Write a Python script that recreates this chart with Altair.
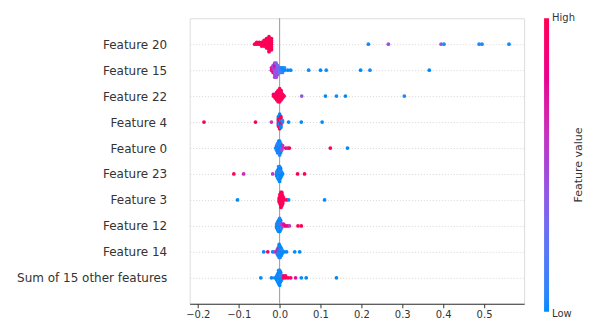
import altair as alt
import numpy as np
import pandas as pd

# Row labels, bottom (0) to top (9)
row_names = ["Sum of 15 other features", "Feature 14", "Feature 12", "Feature 3",
             "Feature 23", "Feature 0", "Feature 4", "Feature 22", "Feature 15", "Feature 20"]
x_ticks = [-0.2, -0.1, 0.0, 0.1, 0.2, 0.3, 0.4, 0.5]
legend_title = ["Feature value"]
legend_ends = ["High", "Low"]

# SHAP values and normalised feature values (0 = low, 1 = high) per row
f20_shap = [-0.061, -0.056, -0.056, -0.050, -0.050, -0.044, -0.044, -0.044,
            -0.038, -0.038, -0.038, -0.038,
            -0.032, -0.032, -0.032, -0.032, -0.032, -0.032,
            -0.026, -0.026, -0.026, -0.026, -0.026, -0.026, -0.026, -0.026, -0.026,
            -0.020, -0.020, -0.020, -0.020, -0.020, -0.020, -0.020,
            0.217, 0.266, 0.395, 0.402, 0.488, 0.495, 0.561]
f20_val = [1.0, 0.95, 1.0, 1.0, 0.95, 1.0, 1.0, 0.95,
           1.0, 0.95, 1.0, 1.0,
           1.0, 0.95, 1.0, 1.0, 0.95, 1.0,
           1.0, 1.0, 0.95, 1.0, 1.0, 0.95, 1.0, 1.0, 1.0,
           1.0, 0.95, 1.0, 1.0, 1.0, 0.95, 1.0,
           0.02, 0.45, 0.42, 0.05, 0.03, 0.04, 0.02]

f15_shap = [-0.020, -0.020,
            -0.016, -0.016, -0.016, -0.016,
            -0.012, -0.012, -0.012, -0.012, -0.012, -0.012, -0.012,
            -0.0085, -0.0085, -0.0085, -0.0085, -0.0085, -0.0085, -0.0085,
            -0.005, -0.005, -0.005, -0.005, -0.005,
            -0.001, -0.001, -0.001,
            0.0025, 0.0025, 0.0025,
            0.007, 0.007, 0.007,
            0.012, 0.012,
            0.020, 0.027, 0.071, 0.100, 0.114, 0.198, 0.221, 0.366]
f15_val = [0.85, 0.75,
           0.7, 0.5, 0.85, 0.45,
           0.45, 0.7, 0.4, 0.8, 0.5, 0.6, 0.4,
           0.4, 0.55, 0.35, 0.7, 0.45, 0.35, 0.5,
           0.4, 0.3, 0.5, 0.3, 0.45,
           0.25, 0.35, 0.2,
           0.1, 0.05, 0.15,
           0.05, 0.0, 0.1,
           0.0, 0.05,
           0.0, 0.0, 0.02, 0.0, 0.03, 0.0, 0.02, 0.0]

f22_shap = [-0.015, -0.015,
            -0.011, -0.011, -0.011,
            -0.0073, -0.0073, -0.0073, -0.0073, -0.0073,
            -0.0037, -0.0037, -0.0037, -0.0037, -0.0037, -0.0037, -0.0037,
            0.0, 0.0, 0.0, 0.0, 0.0, 0.0, 0.0, 0.0,
            0.0037, 0.0037, 0.0037, 0.0037, 0.0037, 0.0037,
            0.0073, 0.0073, 0.0073,
            0.011, 0.054, 0.112, 0.139, 0.161, 0.305]
f22_val = [1.0, 0.95,
           1.0, 0.9, 1.0,
           1.0, 0.95, 1.0, 0.85, 1.0,
           1.0, 0.9, 1.0, 1.0, 0.95, 1.0, 0.9,
           1.0, 1.0, 0.95, 1.0, 0.9, 1.0, 1.0, 0.95,
           1.0, 0.95, 1.0, 0.9, 1.0, 1.0,
           1.0, 0.95, 1.0,
           1.0, 0.42, 0.0, 0.02, 0.0, 0.03]

f4_shap = [-0.185, -0.059, -0.020,
           -0.003, -0.003, -0.003, -0.003, -0.003, -0.003, -0.003, -0.003,
           0.0, 0.0, 0.0, 0.0, 0.0, 0.0, 0.0, 0.0, 0.0, 0.0, 0.0, 0.0,
           0.003, 0.003, 0.003, 0.003, 0.003, 0.003, 0.003, 0.003, 0.003,
           0.007, 0.007, 0.022, 0.053, 0.104]
f4_val = [1.0, 1.0, 0.6,
          1.0, 0.0, 1.0, 0.9, 0.0, 1.0, 0.8, 0.0,
          0.0, 1.0, 0.0, 1.0, 0.1, 1.0, 0.0, 0.9, 1.0, 0.0, 1.0, 0.0,
          1.0, 0.0, 1.0, 0.0, 0.9, 1.0, 0.0, 1.0, 0.0,
          0.0, 0.05, 0.0, 0.0, 0.0]

f0_shap = [-0.0098,
           -0.0073, -0.0073, -0.0073,
           -0.0049, -0.0049, -0.0049, -0.0049, -0.0049,
           -0.0024, -0.0024, -0.0024, -0.0024, -0.0024, -0.0024,
           0.0, 0.0, 0.0, 0.0, 0.0, 0.0, 0.0,
           0.0024, 0.0024, 0.0024, 0.0024, 0.0024,
           0.0049, 0.0049, 0.0049,
           0.0073, 0.0073,
           0.015, 0.020, 0.024, 0.124, 0.166]
f0_val = [0.0,
          0.05, 0.0, 0.1,
          0.0, 0.05, 0.0, 0.1, 0.0,
          0.0, 0.0, 0.5, 0.05, 0.0, 0.1,
          0.0, 0.05, 0.0, 0.0, 0.1, 0.0, 0.05,
          0.0, 0.55, 0.0, 0.05, 0.0,
          0.1, 0.0, 0.45,
          0.5, 0.6,
          0.95, 0.7, 1.0, 1.0, 0.0]

f23_shap = [-0.112, -0.088, -0.017,
            -0.0073, -0.0073, -0.0073,
            -0.0049, -0.0049, -0.0049, -0.0049, -0.0049,
            -0.0024, -0.0024, -0.0024, -0.0024, -0.0024, -0.0024, -0.0024, -0.0024,
            0.0, 0.0, 0.0, 0.0, 0.0, 0.0, 0.0, 0.0, 0.0,
            0.0024, 0.0024, 0.0024, 0.0024, 0.0024, 0.0024,
            0.0049, 0.0049, 0.0049,
            0.0073, 0.044, 0.061]
f23_val = [1.0, 0.65, 0.55,
           0.0, 0.05, 0.0,
           0.0, 0.1, 0.0, 0.05, 0.0,
           0.0, 0.0, 0.05, 0.0, 0.1, 0.0, 0.0, 0.05,
           0.0, 0.05, 0.0, 0.0, 0.1, 0.0, 0.0, 0.05, 0.0,
           0.0, 0.05, 0.0, 0.1, 0.0, 0.0,
           0.0, 0.05, 0.0,
           0.0, 1.0, 1.0]

f3_shap = [-0.103,
           -0.0012, -0.0012, -0.0012,
           0.001, 0.001, 0.001, 0.001, 0.001, 0.001,
           0.0032, 0.0032, 0.0032, 0.0032, 0.0032, 0.0032, 0.0032, 0.0032, 0.0032,
           0.0054, 0.0054, 0.0054, 0.0054, 0.0054, 0.0054, 0.0054, 0.0054,
           0.0076, 0.0076, 0.0076, 0.0076, 0.0076,
           0.0098, 0.0098,
           0.017, 0.022, 0.110]
f3_val = [0.0,
          1.0, 0.95, 1.0,
          1.0, 1.0, 0.95, 1.0, 1.0, 0.9,
          1.0, 0.95, 1.0, 1.0, 0.9, 1.0, 1.0, 0.95, 1.0,
          1.0, 1.0, 0.95, 1.0, 1.0, 0.9, 1.0, 1.0,
          1.0, 0.95, 1.0, 1.0, 0.9,
          1.0, 0.95,
          1.0, 0.0, 0.0]

f12_shap = [-0.0073, -0.0073, -0.0073,
            -0.0049, -0.0049, -0.0049, -0.0049, -0.0049,
            -0.0024, -0.0024, -0.0024, -0.0024, -0.0024, -0.0024, -0.0024,
            0.0, 0.0, 0.0, 0.0, 0.0, 0.0, 0.0, 0.0,
            0.0024, 0.0024, 0.0024, 0.0024, 0.0024, 0.0024,
            0.0049, 0.0049, 0.0049,
            0.0098, 0.0098, 0.0146, 0.0195, 0.024, 0.045, 0.053]
f12_val = [0.0, 0.05, 0.0,
           0.0, 0.1, 0.0, 0.05, 0.0,
           0.0, 0.0, 0.05, 0.0, 0.1, 0.0, 0.0,
           0.0, 0.05, 0.0, 0.0, 0.1, 0.0, 0.0, 0.05,
           0.0, 0.05, 0.0, 0.1, 0.0, 0.0,
           0.0, 0.6, 0.1,
           0.6, 0.75, 0.8, 0.9, 0.6, 1.0, 1.0]

f14_shap = [-0.039, -0.029, -0.017, -0.012,
            -0.006, -0.006, -0.006,
            -0.0037, -0.0037, -0.0037, -0.0037, -0.0037,
            -0.0012, -0.0012, -0.0012, -0.0012, -0.0012, -0.0012, -0.0012, -0.0012,
            0.0012, 0.0012, 0.0012, 0.0012, 0.0012, 0.0012, 0.0012,
            0.0037, 0.0037, 0.0037, 0.0037, 0.0037,
            0.006, 0.006, 0.006,
            0.012, 0.017, 0.037, 0.049]
f14_val = [0.0, 0.9, 0.0, 0.6,
           0.8, 0.0, 0.7,
           0.0, 0.85, 0.1, 0.6, 0.0,
           0.0, 0.0, 0.1, 0.9, 0.0, 0.0, 0.05, 0.0,
           0.0, 0.05, 0.0, 0.1, 0.0, 0.0, 0.05,
           0.0, 0.0, 0.05, 0.0, 0.0,
           0.0, 0.05, 0.0,
           0.0, 0.0, 0.0, 0.0]

sum_shap = [-0.046, -0.020, -0.012,
            -0.0073, -0.0073, -0.0073,
            -0.0049, -0.0049, -0.0049, -0.0049, -0.0049,
            -0.0024, -0.0024, -0.0024, -0.0024, -0.0024, -0.0024, -0.0024, -0.0024,
            0.0, 0.0, 0.0, 0.0, 0.0, 0.0, 0.0, 0.0, 0.0,
            0.0024, 0.0024, 0.0024, 0.0024, 0.0024, 0.0024,
            0.0049, 0.0049, 0.0049,
            0.0098, 0.0098, 0.0146, 0.0146, 0.0207, 0.027,
            0.039, 0.053, 0.065, 0.139]
sum_val = [0.0, 0.0, 0.0,
           0.0, 0.05, 0.0,
           0.0, 0.1, 0.0, 0.05, 0.0,
           0.0, 0.0, 0.05, 0.0, 0.1, 0.0, 0.0, 0.05,
           0.0, 0.05, 0.0, 0.0, 0.1, 0.0, 0.0, 0.05, 0.0,
           0.0, 0.05, 0.0, 0.1, 0.0, 0.0,
           0.0, 0.05, 0.0,
           1.0, 0.9, 1.0, 0.95, 1.0, 0.9,
           0.75, 0.0, 0.0, 0.0]

rows = [(sum_shap, sum_val), (f14_shap, f14_val), (f12_shap, f12_val), (f3_shap, f3_val),
        (f23_shap, f23_val), (f0_shap, f0_val), (f4_shap, f4_val), (f22_shap, f22_val),
        (f15_shap, f15_val), (f20_shap, f20_val)]


def swarm_offsets(vals, nbins=100, row_height=0.4):
    """Beeswarm layout (as in shap): stack points falling in the same bin."""
    v = np.asarray(vals, dtype=float)
    quant = np.round(nbins * (v - v.min()) / (v.max() - v.min() + 1e-8))
    inds = np.argsort(quant, kind="stable")
    ys = np.zeros(len(v))
    layer, last = 0, -1
    for i in inds:
        if quant[i] != last:
            layer = 0
        ys[i] = np.ceil(layer / 2) * ((layer % 2) * 2 - 1)
        layer += 1
        last = quant[i]
    ys *= 0.9 * (row_height / np.max(ys + 1))
    return ys


frames = []
for r, (s, fv) in enumerate(rows):
    frames.append(pd.DataFrame({"shap": s, "fval": fv, "ypos": r + swarm_offsets(s)}))
df = pd.concat(frames, ignore_index=True)

label_array = "[" + ",".join("'" + n + "'" for n in row_names) + "]"

color_scale = alt.Scale(domain=[0, 0.25, 0.5, 0.75, 1],
                        range=["#008bfb", "#6272f5", "#a845d4", "#e0109c", "#ff0052"])

x_scale = alt.Scale(domain=[-0.22, 0.598], nice=False, zero=False)
y_scale = alt.Scale(domain=[-1, 10], nice=False, zero=False)

points = alt.Chart(df).mark_circle(size=14, opacity=1).encode(
    x=alt.X("shap:Q", scale=x_scale,
            axis=alt.Axis(values=x_ticks, format=".1f", title=None, grid=False,
                          domainColor="#333333", tickColor="#333333", tickSize=4,
                          labelFontSize=10, labelColor="#333333", labelPadding=2)),
    y=alt.Y("ypos:Q", scale=y_scale,
            axis=alt.Axis(values=list(range(10)), labelExpr=label_array + "[datum.value]",
                          title=None, domain=False, ticks=False, grid=True,
                          gridDash=[1, 2], gridColor="#cccccc", gridWidth=0.8,
                          labelFontSize=12, labelColor="#333333", labelPadding=23)),
    color=alt.Color("fval:Q", scale=color_scale,
                    legend=alt.Legend(title=None, orient="right",
                                      direction="vertical", gradientLength=294,
                                      gradientThickness=5, gradientStrokeWidth=0,
                                      values=[0, 1], labelExpr="''",
                                      labelFontSize=10, offset=20, padding=0)),
)

zero_df = pd.DataFrame({"x": [0.0]})
zero_line = alt.Chart(zero_df).mark_rule(color="#999999", strokeWidth=1).encode(
    x=alt.X("x:Q", scale=x_scale)
)

title_df = pd.DataFrame({"t": legend_title})
legend_title_mark = alt.Chart(title_df).mark_text(
    angle=270, fontSize=11, color="#333333", align="center", baseline="middle"
).encode(text="t:N", x=alt.value(390), y=alt.value(147))

ends_df = pd.DataFrame({"t": legend_ends, "py": [0, 296]})
legend_ends_mark = alt.Chart(ends_df).mark_text(
    fontSize=10, color="#333333", align="left", baseline="middle"
).encode(text="t:N", x=alt.value(363), y=alt.Y("py:Q", scale=None))

chart = alt.layer(zero_line, points, legend_title_mark, legend_ends_mark).properties(
    width=335, height=286,
    padding={"left": 8, "top": 5, "right": 5, "bottom": 5},
).configure_view(stroke=None).configure(font="DejaVu Sans")

chart.save("out.html", embed_options={"renderer": "svg", "actions": False})
